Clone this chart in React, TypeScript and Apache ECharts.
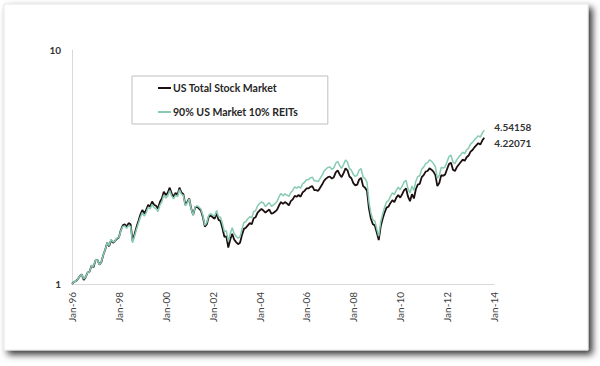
import React, { useEffect, useRef } from "react";
import * as echarts from "echarts";

const monthNames = ["Jan", "Feb", "Mar", "Apr", "May", "Jun", "Jul", "Aug", "Sep", "Oct", "Nov", "Dec"];
const categories: string[] = [];
for (let y = 1996; y <= 2014; y++) {
  for (let m = 0; m < 12; m++) {
    if (y === 2014 && m > 0) break;
    categories.push(`${monthNames[m]}-${String(y % 100).padStart(2, "0")}`);
  }
}

const seriesNames = ["US Total Stock Market", "90% US Market 10% REITs"];

// Growth of $1, monthly, Jan-96 .. Aug-13
const usTotal = [
  1.00, 1.02, 1.03, 1.05, 1.08, 1.10, 1.04, 1.07, 1.12, 1.13, 1.20, 1.18,
  1.26, 1.27, 1.21, 1.24, 1.33, 1.40, 1.50, 1.45, 1.54, 1.50, 1.53, 1.56,
  1.58, 1.70, 1.78, 1.80, 1.76, 1.82, 1.80, 1.53, 1.63, 1.75, 1.86, 1.98,
  2.07, 2.00, 2.08, 2.18, 2.14, 2.25, 2.18, 2.16, 2.10, 2.24, 2.32, 2.48,
  2.40, 2.45, 2.58, 2.44, 2.36, 2.45, 2.40, 2.58, 2.46, 2.42, 2.18, 2.24,
  2.32, 2.10, 1.97, 2.12, 2.14, 2.10, 2.06, 1.93, 1.76, 1.80, 1.94, 1.96,
  1.93, 1.90, 2.00, 1.88, 1.86, 1.73, 1.59, 1.60, 1.43, 1.55, 1.64, 1.55,
  1.51, 1.48, 1.50, 1.62, 1.72, 1.74, 1.78, 1.82, 1.80, 1.91, 1.93, 2.02,
  2.06, 2.09, 2.06, 2.02, 2.05, 2.08, 2.00, 2.01, 2.04, 2.08, 2.17, 2.24,
  2.20, 2.24, 2.21, 2.17, 2.26, 2.30, 2.38, 2.36, 2.40, 2.36, 2.46, 2.50,
  2.56, 2.56, 2.60, 2.62, 2.52, 2.52, 2.50, 2.58, 2.66, 2.76, 2.82, 2.86,
  2.88, 2.82, 2.86, 3.00, 3.06, 2.94, 2.86, 2.98, 3.12, 3.06, 2.88, 2.83,
  2.70, 2.64, 2.66, 2.80, 2.84, 2.62, 2.58, 2.50, 2.10, 1.90, 1.80, 1.78,
  1.66, 1.54, 1.76, 1.90, 2.02, 2.12, 2.14, 2.22, 2.28, 2.24, 2.34, 2.40,
  2.34, 2.42, 2.52, 2.56, 2.36, 2.26, 2.42, 2.32, 2.54, 2.66, 2.68, 2.86,
  2.92, 3.02, 3.04, 3.12, 3.08, 3.02, 2.92, 2.62, 2.70, 2.92, 2.90, 2.94,
  3.10, 3.26, 3.30, 3.08, 3.04, 3.16, 3.24, 3.32, 3.40, 3.36, 3.48, 3.54,
  3.68, 3.74, 3.84, 3.92, 4.00, 3.94, 4.10, 4.22071,
];

const usReit = [
  1.00, 1.02, 1.03, 1.05, 1.08, 1.10, 1.05, 1.07, 1.12, 1.13, 1.20, 1.19,
  1.26, 1.27, 1.21, 1.24, 1.33, 1.40, 1.50, 1.46, 1.55, 1.51, 1.53, 1.57,
  1.58, 1.69, 1.76, 1.77, 1.73, 1.78, 1.76, 1.50, 1.60, 1.71, 1.82, 1.93,
  2.02, 1.95, 2.02, 2.13, 2.09, 2.19, 2.12, 2.10, 2.04, 2.17, 2.25, 2.40,
  2.33, 2.38, 2.51, 2.38, 2.31, 2.40, 2.36, 2.53, 2.42, 2.39, 2.16, 2.22,
  2.31, 2.09, 1.97, 2.13, 2.16, 2.13, 2.09, 1.96, 1.78, 1.83, 1.97, 2.00,
  1.97, 1.95, 2.06, 1.94, 1.93, 1.81, 1.67, 1.69, 1.52, 1.64, 1.74, 1.64,
  1.60, 1.57, 1.59, 1.72, 1.83, 1.85, 1.90, 1.94, 1.92, 2.04, 2.06, 2.16,
  2.21, 2.24, 2.22, 2.14, 2.19, 2.23, 2.15, 2.17, 2.21, 2.26, 2.36, 2.44,
  2.38, 2.43, 2.40, 2.37, 2.46, 2.51, 2.60, 2.57, 2.61, 2.57, 2.68, 2.72,
  2.79, 2.79, 2.84, 2.86, 2.76, 2.76, 2.74, 2.83, 2.92, 3.03, 3.10, 3.15,
  3.16, 3.09, 3.13, 3.28, 3.34, 3.21, 3.12, 3.24, 3.39, 3.32, 3.12, 3.06,
  2.94, 2.88, 2.92, 3.07, 3.11, 2.86, 2.82, 2.72, 2.24, 2.00, 1.88, 1.86,
  1.72, 1.60, 1.84, 1.99, 2.13, 2.24, 2.27, 2.37, 2.45, 2.41, 2.52, 2.59,
  2.53, 2.62, 2.73, 2.77, 2.55, 2.45, 2.62, 2.51, 2.75, 2.88, 2.90, 3.09,
  3.16, 3.27, 3.30, 3.39, 3.35, 3.27, 3.17, 2.83, 2.91, 3.15, 3.13, 3.17,
  3.34, 3.51, 3.55, 3.32, 3.27, 3.40, 3.49, 3.57, 3.66, 3.61, 3.74, 3.81,
  3.96, 4.03, 4.13, 4.22, 4.30, 4.24, 4.41, 4.54158,
];

const BLACK = "#1c1010";
const GREEN = "#86cbb2";
const FONT = "Lato, 'Open Sans', sans-serif";

export default function App() {
  const ref = useRef<HTMLDivElement>(null);
  useEffect(() => {
    if (!ref.current) return;
    const chart = echarts.init(ref.current, undefined, { renderer: "svg" });
    chart.setOption({
      animation: false,
      backgroundColor: "#ffffff",
      graphic: [
        {
          type: "rect",
          z: -10,
          shape: { x: 4, y: 4, width: 584, height: 346 },
          style: {
            fill: "#ffffff",
            stroke: "#e6e6e6",
            lineWidth: 1,
            shadowBlur: 7,
            shadowOffsetX: 4,
            shadowOffsetY: 4,
            shadowColor: "rgba(0,0,0,0.8)",
          },
          silent: true,
        },
      ],
      grid: { left: 72, right: 106, top: 50, bottom: 82 },
      legend: {
        left: 132,
        top: 76,
        orient: "vertical",
        icon: "rect",
        itemWidth: 13,
        itemHeight: 2,
        itemGap: 10,
        padding: [5, 30, 5, 26],
        borderColor: "#bfbfbf",
        borderWidth: 1,
        backgroundColor: "#ffffff",
        textStyle: { fontSize: 10.5, fontWeight: "bold", color: "#262626", fontFamily: FONT, lineHeight: 14, padding: [0, 0, 0, -3] },
        data: seriesNames,
      },
      xAxis: {
        type: "category",
        data: categories,
        boundaryGap: false,
        axisLine: { show: true, lineStyle: { color: "#d9d9d9", width: 1 } },
        axisTick: { show: false },
        splitLine: { show: false },
        axisLabel: {
          interval: 23,
          rotate: 90,
          color: "#404040",
          fontSize: 10,
          fontFamily: FONT,
          margin: 8,
        },
      },
      yAxis: {
        type: "log",
        logBase: 10,
        min: 1,
        max: 10,
        axisLine: { show: true, lineStyle: { color: "#d9d9d9", width: 1 } },
        axisTick: { show: false },
        splitLine: { show: false },
        axisLabel: { color: "#333333", fontWeight: "bold", fontSize: 10, fontFamily: FONT, margin: 11 },
      },
      series: [
        {
          name: seriesNames[0],
          type: "line",
          data: usTotal,
          showSymbol: false,
          symbol: "none",
          lineStyle: { color: BLACK, width: 1.8 },
          itemStyle: { color: BLACK },
          endLabel: {
            show: true,
            formatter: "{c}",
            offset: [2, 5],
            color: "#333333",
            fontSize: 10,
            fontWeight: "bold",
            fontFamily: FONT,
          },
        },
        {
          name: seriesNames[1],
          type: "line",
          data: usReit,
          showSymbol: false,
          symbol: "none",
          lineStyle: { color: GREEN, width: 1.5 },
          itemStyle: { color: GREEN },
          endLabel: {
            show: true,
            formatter: "{c}",
            offset: [2, -3],
            color: "#333333",
            fontSize: 10,
            fontWeight: "bold",
            fontFamily: FONT,
          },
        },
      ],
    });
    return () => chart.dispose();
  }, []);
  return (
    <div
      ref={ref}
      style={{ position: "absolute", left: 0, top: 0, width: 600, height: 366 }}
    />
  );
}
